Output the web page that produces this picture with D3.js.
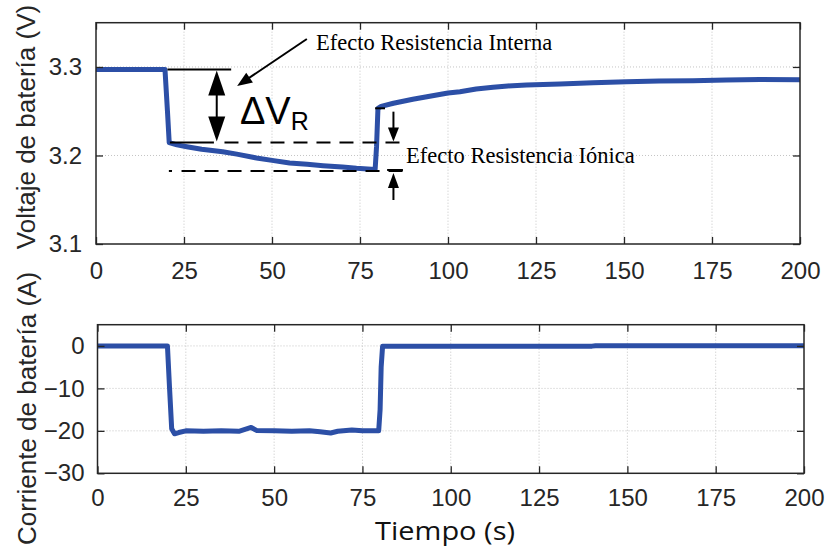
<!DOCTYPE html>
<html>
<head>
<meta charset="utf-8">
<script src="https://cdn.jsdelivr.net/npm/d3@7"></script>
<style>
  html, body { margin: 0; padding: 0; background: #fff; }
  svg { display: block; }
</style>
</head>
<body>
<script>
// ---------- DATA ----------
const xTicks = [0, 25, 50, 75, 100, 125, 150, 175, 200];
const vTicks = [3.1, 3.2, 3.3];
const iTicks = [-30, -20, -10, 0];

// Battery voltage (V) vs time (s)
const tVolt = [0, 19.6, 20.3, 20.8, 23, 25.8, 30, 36, 40, 45.6, 50, 55, 60, 64.5, 70, 74, 79.3,
               79.7, 80.1, 81, 84.5, 90, 94, 100, 103.4, 108, 112.8, 117, 122.3, 131.8, 141.2,
               150.7, 160, 169.6, 179, 188.6, 200];
const vVolt = [3.297, 3.297, 3.25, 3.2145, 3.212, 3.2099, 3.207, 3.2043, 3.2015, 3.1972, 3.1945,
               3.1915, 3.19, 3.1885, 3.187, 3.1855, 3.1842,
               3.21, 3.2533, 3.2555, 3.259, 3.2635, 3.2664, 3.2705, 3.2721, 3.275, 3.2771, 3.2785,
               3.2797, 3.2808, 3.2823, 3.2834, 3.2842, 3.2845, 3.2853, 3.2858, 3.2855];

// Battery current (A) vs time (s)
const tCurr = [0, 19.8, 20.4, 21, 21.8, 23, 25, 30, 35, 40, 43.5, 45, 50, 55, 60, 63, 66, 68, 72,
               75, 79.6, 80, 80.3, 80.7, 100, 140, 141, 200];
const iCurr = [0, 0, -10, -19.5, -20.7, -20.4, -20, -20.1, -20, -20.1, -19.2, -19.9, -20, -20.1,
               -20, -20.2, -20.5, -20.1, -19.8, -20, -20, -15, -5, -0.1, -0.1, -0.05, 0.05, 0.05];

// ---------- SETUP ----------
const W = 825, H = 548;
const blue = "#2c4fa6";
const axisColor = "#262626";
const tickFont = "'Liberation Sans', Arial, sans-serif";

const svg = d3.select("body").append("svg")
  .attr("width", W).attr("height", H)
  .style("background", "#fff");

function panel(opts) {
  const { x, y, ticksY, tVals, yVals, padX, padY } = opts;
  const [x0, x1] = x.range();
  const [yb, yt] = y.range();
  const g = svg.append("g");

  // grid
  g.append("g").selectAll("line").data(xTicks.slice(1, -1)).join("line")
    .attr("x1", d => x(d)).attr("x2", d => x(d)).attr("y1", yt).attr("y2", yb)
    .attr("stroke", "#c4c4c4").attr("stroke-width", 1).attr("stroke-dasharray", "1,2");
  g.append("g").selectAll("line").data(ticksY.filter(d => y(d) > yt + 1 && y(d) < yb - 1)).join("line")
    .attr("x1", x0).attr("x2", x1).attr("y1", d => y(d)).attr("y2", d => y(d))
    .attr("stroke", "#c4c4c4").attr("stroke-width", 1).attr("stroke-dasharray", "1,2");

  // data line
  const pts = tVals.map((t, i) => [t, yVals[i]]);
  g.append("path").datum(pts)
    .attr("d", d3.line().x(d => x(d[0])).y(d => y(d[1])))
    .attr("fill", "none").attr("stroke", blue).attr("stroke-width", 5)
    .attr("stroke-linejoin", "round").attr("stroke-linecap", "butt");

  // axes
  const ax = g.append("g").attr("transform", `translate(0,${yb})`)
    .call(d3.axisBottom(x).tickValues(xTicks).tickSize(-7).tickPadding(padX).tickFormat(d3.format("d")));
  const axT = g.append("g").attr("transform", `translate(0,${yt})`)
    .call(d3.axisTop(x).tickValues(xTicks).tickSize(-7).tickFormat(""));
  const ay = g.append("g").attr("transform", `translate(${x0},0)`)
    .call(d3.axisLeft(y).tickValues(ticksY).tickSize(-7).tickPadding(padY).tickFormat(d => d3.format("")(d)));
  const ayR = g.append("g").attr("transform", `translate(${x1},0)`)
    .call(d3.axisRight(y).tickValues(ticksY).tickSize(-7).tickFormat(""));
  [ax, axT, ay, ayR].forEach(a => {
    a.select(".domain").remove();
    a.selectAll(".tick line").attr("stroke", axisColor).attr("stroke-width", 1.3);
    a.selectAll("text").attr("fill", axisColor).style("font-family", tickFont).style("font-size", "24px");
  });

  // border
  g.append("rect").attr("x", x0).attr("y", yt).attr("width", x1 - x0).attr("height", yb - yt)
    .attr("fill", "none").attr("stroke", axisColor).attr("stroke-width", 1.5);
  return g;
}

// Top panel: voltage
const xV = d3.scaleLinear().domain([0, 200]).range([96, 800]);
const yV = d3.scaleLinear().domain([3.1, 3.35]).range([244, 22.7]);
panel({ x: xV, y: yV, ticksY: vTicks, tVals: tVolt, yVals: vVolt, padX: 17.5, padY: 14 });

// Bottom panel: current
const xI = d3.scaleLinear().domain([0, 200]).range([97.5, 804]);
const yI = d3.scaleLinear().domain([-30, 5]).range([473.3, 324.7]);
panel({ x: xI, y: yI, ticksY: iTicks, tVals: tCurr, yVals: iCurr, padX: 16, padY: 13 });

// axis titles
svg.append("text").attr("transform", "translate(35,127) rotate(-90)")
  .attr("text-anchor", "middle").attr("fill", axisColor)
  .style("font-family", tickFont).style("font-size", "26px").text("Voltaje de batería (V)");
svg.append("text").attr("transform", "translate(36,408.5) rotate(-90)")
  .attr("text-anchor", "middle").attr("fill", axisColor)
  .style("font-family", tickFont).style("font-size", "26px").text("Corriente de batería (A)");
svg.append("text").attr("x", 445).attr("y", 540)
  .attr("text-anchor", "middle").attr("fill", "#111")
  .attr("textLength", 140).attr("lengthAdjust", "spacingAndGlyphs")
  .style("font-family", "'Open Sans', sans-serif").style("font-size", "25px").text("Tiempo (s)");

// ---------- ANNOTATIONS ----------
const ann = svg.append("g").attr("stroke", "#000").attr("fill", "#000");
function seg(x1, y1, x2, y2, dash) {
  ann.append("line").attr("x1", x1).attr("y1", y1).attr("x2", x2).attr("y2", y2)
    .attr("stroke-width", 2).attr("stroke-dasharray", dash || null);
}
function head(tx, ty, dx, dy, len, wid) {
  // triangle with tip at (tx,ty) pointing along (dx,dy)
  const n = Math.hypot(dx, dy), ux = dx / n, uy = dy / n;
  const bx = tx - ux * len, by = ty - uy * len;
  const px = -uy * wid / 2, py = ux * wid / 2;
  ann.append("path").attr("stroke", "none")
    .attr("d", `M${tx},${ty}L${bx + px},${by + py}L${bx - px},${by - py}Z`);
}

const vTop = 3.297, vMid = 3.2148, vLow = 3.1825;
// ΔV_R reference lines
seg(xV(20.3), yV(vTop), xV(38.4), yV(vTop));
seg(xV(21), yV(vMid), xV(33.5), yV(vMid));
seg(xV(36.5), yV(vMid), xV(87.5), yV(vMid), "14,9");
seg(xV(20.7), yV(vLow), xV(21.6), yV(vLow));
seg(xV(24.3), yV(vLow), xV(87.2), yV(vLow), "14,9");
// double arrow ΔV_R
const xa = xV(34.3);
seg(xa, yV(vTop) + 20, xa, yV(vMid) - 20);
head(xa, yV(vTop) + 1, 0, -1, 25, 17);
head(xa, yV(vMid) - 1, 0, 1, 25, 17);
// ionic arrows
const xb = xV(84.5);
seg(xV(79.3), yV(3.2533), xV(82.1), yV(3.2533));
seg(xb, yV(3.2495), xb, yV(vMid) - 10);
head(xb, yV(vMid) - 1, 0, 1, 14, 11);
seg(xV(82.7), yV(vLow) - 1, xV(87.2), yV(vLow) - 1);
seg(xb, yV(vLow) + 12, xb, yV(3.1497));
head(xb, yV(vLow) + 2, 0, -1, 15, 11);
// internal resistance pointer
const p0 = [xV(59.9), yV(3.3316)], p1 = [xV(40.1), yV(3.2785)];
seg(p0[0], p0[1], p1[0] + (p0[0] - p1[0]) * 0.15, p1[1] + (p0[1] - p1[1]) * 0.15);
head(p1[0], p1[1], p1[0] - p0[0], p1[1] - p0[1], 15, 12);

// annotation texts
const serif = "'Liberation Serif', 'Times New Roman', serif";
svg.append("text").attr("x", xV(62.5)).attr("y", yV(3.3192)).attr("fill", "#000")
  .style("font-family", serif).style("font-size", "22.5px").text("Efecto Resistencia Interna");
svg.append("text").attr("x", xV(88.1)).attr("y", yV(3.1915)).attr("fill", "#000")
  .style("font-family", serif).style("font-size", "22.5px").text("Efecto Resistencia Iónica");
const dv = svg.append("text").attr("x", xV(40.9)).attr("y", yV(3.2356)).attr("fill", "#000")
  .style("font-family", tickFont).style("font-size", "38px");
dv.append("tspan").text("ΔV");
dv.append("tspan").attr("dy", 6).style("font-size", "25px").text("R");
</script>
</body>
</html>
